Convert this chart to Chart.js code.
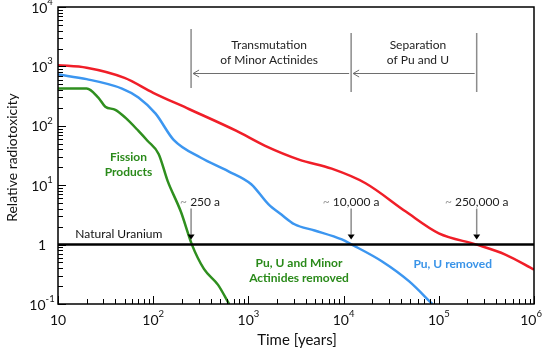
<!DOCTYPE html>
<html>
<head>
<meta charset="utf-8">
<script src="https://cdn.jsdelivr.net/npm/chart.js@4.4.1/dist/chart.umd.min.js"></script>
<style>
  html, body { margin: 0; padding: 0; background: #fff; }
  #wrap { width: 543px; height: 360px; }
</style>
</head>
<body>
<div id="wrap"><canvas id="tox-chart"></canvas></div>
<script>
// Relative radiotoxicity of spent fuel over time (log-log)

// Spent fuel (red)
const spentFuelYears = [10, 20, 50, 100, 240, 750, 1500, 3400, 7500, 17000, 45000, 100000, 250000, 500000, 1000000];
const spentFuelTox   = [1050, 950, 640, 360, 190, 82, 46, 27, 19, 10.8, 3.6, 1.55, 1.0, 0.68, 0.38];

// Pu, U removed (blue)
const puURemovedYears = [10, 20, 47, 70, 106, 164, 317, 611, 1071, 1620, 2220, 3050, 4960, 9580, 12200, 25400, 48900, 85500];
const puURemovedTox   = [730, 610, 424, 300, 160, 58, 29, 17.3, 10.4, 4.8, 3.2, 2.2, 1.73, 1.22, 1.0, 0.52, 0.24, 0.1];

// Fission products (green)
const fissionYears = [10, 20, 26.5, 31.4, 40, 51, 70, 87, 114, 142, 195, 255, 341, 480, 627];
const fissionTox   = [424, 424, 299, 210, 186, 137, 82, 56, 33.5, 11.7, 3.6, 1.0, 0.39, 0.21, 0.1];

// Natural uranium reference level
const naturalUraniumLevel = 1;

// Crossing times marked with arrows
const markerYears  = [250, 12000, 250000];
const markerLabels = ['250 a', '10,000 a', '250,000 a'];

// Tick labels
const xTickValues = [10, 100, 1000, 10000, 100000, 1000000];
const xTickBases  = ['10', '10', '10', '10', '10', '10'];
const xTickExps   = ['', '2', '3', '4', '5', '6'];
const yTickValues = [0.1, 1, 10, 100, 1000, 10000];
const yTickBases  = ['10', '1', '10', '10', '10', '10'];
const yTickExps   = ['-1', '', '1', '2', '3', '4'];

const FONT = 'Lato, "Open Sans", sans-serif';
const colors = { red: '#f01e28', blue: '#3c96f0', green: '#2f8f1f', greenText: '#2a8a1a', blueText: '#3a94e8' };

function toPoints(xs, ys) {
    return xs.map((x, i) => ({ x: x, y: ys[i] }));
}

function drawPow(ctx, base, exp, cx, cy, maxRight) {
    ctx.font = '14px ' + FONT;
    const wb = ctx.measureText(base).width;
    ctx.font = '9.5px ' + FONT;
    const we = exp ? ctx.measureText(exp).width : 0;
    let left = cx - (wb + we) / 2;
    if (maxRight && left + wb + we > maxRight) left = maxRight - wb - we;
    ctx.textAlign = 'left';
    ctx.textBaseline = 'middle';
    ctx.font = '14px ' + FONT;
    ctx.fillText(base, left, cy);
    if (exp) {
        ctx.font = '9.5px ' + FONT;
        ctx.fillText(exp, left + wb, cy - 6);
    }
}

// Frame, inward ticks, tick labels and axis titles
const axisDecor = {
    id: 'axisDecor',
    afterDraw(chart) {
        const { ctx, chartArea: a, scales: { x, y } } = chart;
        ctx.save();
        ctx.strokeStyle = '#000';
        ctx.lineWidth = 1;
        ctx.beginPath();
        for (let d = 1; d <= 6; d++) {
            for (let k = 1; k <= 9; k++) {
                const v = k * Math.pow(10, d);
                if (v > 1e6) break;
                const px = Math.round(x.getPixelForValue(v)) + 0.5;
                ctx.moveTo(px, a.bottom);
                ctx.lineTo(px, a.bottom - (k === 1 ? 8 : 5));
            }
        }
        for (let d = -1; d <= 4; d++) {
            for (let k = 1; k <= 9; k++) {
                const v = k * Math.pow(10, d);
                if (v > 1e4) break;
                const py = Math.round(y.getPixelForValue(v)) + 0.5;
                ctx.moveTo(a.left, py);
                ctx.lineTo(a.left + (k === 1 ? 8 : 5), py);
            }
        }
        ctx.stroke();

        ctx.lineWidth = 1.5;
        ctx.strokeRect(a.left, a.top, a.right - a.left, a.bottom - a.top);

        ctx.fillStyle = '#111';
        xTickValues.forEach((v, i) => drawPow(ctx, xTickBases[i], xTickExps[i], x.getPixelForValue(v), a.bottom + 16, chart.width - 1));
        yTickValues.forEach((v, i) => drawPow(ctx, yTickBases[i], yTickExps[i], a.left - 16, y.getPixelForValue(v) + 1));

        ctx.font = '15px ' + FONT;
        ctx.textAlign = 'center';
        ctx.textBaseline = 'middle';
        ctx.fillText('Time [years]', (a.left + a.right) / 2 + 1, a.bottom + 36);
        ctx.save();
        ctx.translate(12, (a.top + a.bottom) / 2 + 2);
        ctx.rotate(-Math.PI / 2);
        ctx.font = '14px ' + FONT;
        ctx.fillText('Relative radiotoxicity', 0, 0);
        ctx.restore();
        ctx.restore();
    }
};

// Brackets, arrows and text labels inside the plot
const annotations = {
    id: 'annotations',
    afterDatasetsDraw(chart) {
        const { ctx, chartArea: a, scales: { x, y } } = chart;
        const mx = markerYears.map(v => x.getPixelForValue(v));
        const uy = y.getPixelForValue(naturalUraniumLevel);
        ctx.save();

        // vertical brackets at top
        ctx.strokeStyle = '#8c8c8c';
        ctx.lineWidth = 1.5;
        ctx.beginPath();
        ctx.moveTo(mx[0], a.top + 22); ctx.lineTo(mx[0], a.top + 81);
        ctx.moveTo(mx[1], a.top + 26); ctx.lineTo(mx[1], a.top + 85);
        ctx.moveTo(mx[2], a.top + 26); ctx.lineTo(mx[2], a.top + 85);
        ctx.stroke();

        // horizontal arrows pointing left
        const ay = a.top + 66;
        ctx.lineWidth = 1;
        ctx.strokeStyle = '#6e6e6e';
        [[mx[1] - 2, mx[0] + 2], [mx[2] - 2, mx[1] + 2]].forEach(([from, to]) => {
            ctx.beginPath();
            ctx.moveTo(from, ay + 0.5);
            ctx.lineTo(to, ay + 0.5);
            ctx.moveTo(to + 6, ay - 3);
            ctx.lineTo(to, ay + 0.5);
            ctx.lineTo(to + 6, ay + 4);
            ctx.stroke();
        });

        ctx.fillStyle = '#222';
        ctx.font = '12px ' + FONT;
        ctx.textAlign = 'center';
        ctx.textBaseline = 'middle';
        const c1 = (mx[0] + mx[1]) / 2 - 2;
        const c2 = (mx[1] + mx[2]) / 2 + 4;
        ctx.fillText('Transmutation', c1, a.top + 38);
        ctx.fillText('of Minor Actinides', c1, a.top + 53);
        ctx.fillText('Separation', c2, a.top + 38);
        ctx.fillText('of Pu and U', c2, a.top + 53);

        // downward arrows to the natural uranium line
        const textShift = [9, 0, 0];
        mx.forEach((px, i) => {
            ctx.strokeStyle = '#8c8c8c';
            ctx.lineWidth = 1.5;
            ctx.beginPath();
            ctx.moveTo(px, uy - 36);
            ctx.lineTo(px, uy - 10);
            ctx.stroke();
            ctx.fillStyle = '#000';
            ctx.beginPath();
            ctx.moveTo(px - 3.5, uy - 10);
            ctx.lineTo(px + 3.5, uy - 10);
            ctx.lineTo(px, uy - 5);
            ctx.closePath();
            ctx.fill();

            ctx.font = '12px ' + FONT;
            const tilde = '~ ';
            const wt = ctx.measureText(tilde).width;
            const wl = ctx.measureText(markerLabels[i]).width;
            const left = px + textShift[i] - (wt + wl) / 2;
            ctx.textAlign = 'left';
            ctx.fillStyle = '#999';
            ctx.fillText(tilde, left, uy - 42);
            ctx.fillStyle = '#222';
            ctx.fillText(markerLabels[i], left + wt, uy - 42);
        });

        ctx.textAlign = 'left';
        ctx.fillStyle = '#111';
        ctx.font = '12px ' + FONT;
        ctx.fillText('Natural Uranium', x.getPixelForValue(15.2), uy - 10);

        ctx.textAlign = 'center';
        ctx.font = 'bold 12px ' + FONT;
        ctx.fillStyle = colors.greenText;
        const fx = x.getPixelForValue(55);
        ctx.fillText('Fission', fx, y.getPixelForValue(30));
        ctx.fillText('Products', fx, y.getPixelForValue(16.6));
        const ax = x.getPixelForValue(3400);
        ctx.fillText('Pu, U and Minor', ax, uy + 19);
        ctx.fillText('Actinides removed', ax, uy + 34);
        ctx.fillStyle = colors.blueText;
        ctx.fillText('Pu, U removed', x.getPixelForValue(140000), uy + 20);
        ctx.restore();
    }
};

const lineStyle = {
    pointRadius: 0,
    borderWidth: 2.5,
    fill: false,
    cubicInterpolationMode: 'monotone'
};

new Chart(document.getElementById('tox-chart').getContext('2d'), {
    type: 'line',
    data: {
        datasets: [
            { ...lineStyle, label: 'Natural Uranium', data: [{ x: 10, y: naturalUraniumLevel }, { x: 1e6, y: naturalUraniumLevel }], borderColor: '#000', borderWidth: 2.5, cubicInterpolationMode: 'default', tension: 0 },
            { ...lineStyle, label: 'Spent fuel', data: toPoints(spentFuelYears, spentFuelTox), borderColor: colors.red },
            { ...lineStyle, label: 'Pu, U removed', data: toPoints(puURemovedYears, puURemovedTox), borderColor: colors.blue },
            { ...lineStyle, label: 'Fission products', data: toPoints(fissionYears, fissionTox), borderColor: colors.green }
        ]
    },
    options: {
        responsive: true,
        maintainAspectRatio: false,
        animation: false,
        layout: { padding: { left: 58, right: 9, top: 7, bottom: 56 } },
        plugins: {
            legend: { display: false },
            tooltip: { enabled: false }
        },
        scales: {
            x: {
                type: 'logarithmic',
                min: 10,
                max: 1e6,
                ticks: { display: false },
                grid: { display: false, drawTicks: false },
                border: { display: false }
            },
            y: {
                type: 'logarithmic',
                min: 0.1,
                max: 1e4,
                ticks: { display: false },
                grid: { display: false, drawTicks: false },
                border: { display: false }
            }
        }
    },
    plugins: [axisDecor, annotations]
});
</script>
</body>
</html>
